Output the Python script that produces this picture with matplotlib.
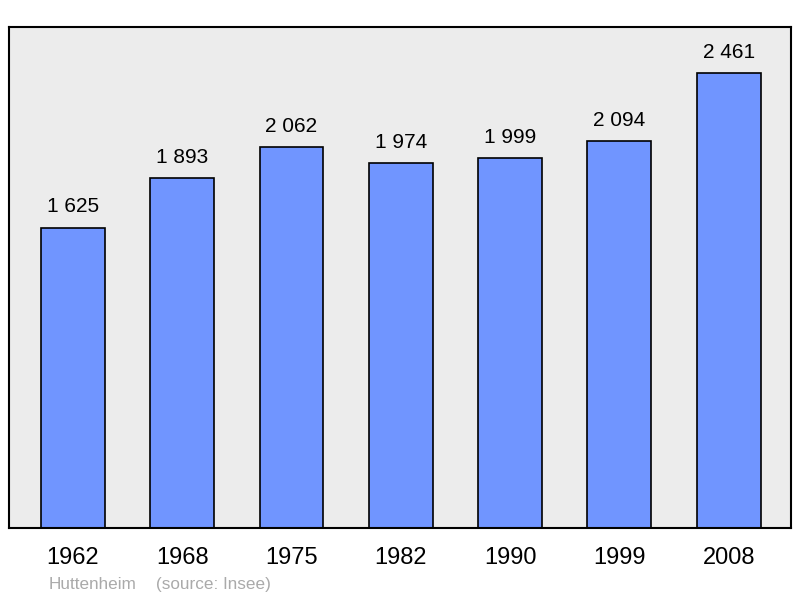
import matplotlib.pyplot as plt

plt.rcParams['font.family'] = ['Liberation Sans', 'DejaVu Sans']

years = ['1962', '1968', '1975', '1982', '1990', '1999', '2008']
population = [1625, 1893, 2062, 1974, 1999, 2094, 2461]
value_labels = ['1 625', '1 893', '2 062', '1 974', '1 999', '2 094', '2 461']

fig = plt.figure(figsize=(8, 5.98), dpi=100)
ax = fig.add_axes([9 / 800, 70 / 598, 782 / 800, 501 / 598])
ax.set_facecolor('#ececec')

x = list(range(len(years)))
ax.bar(x, population, width=0.585, color='#7095ff', edgecolor='black', linewidth=1.2, zorder=2)

for xi, v, lab in zip(x, population, value_labels):
    ax.annotate(lab, (xi, v), xytext=(0, 8), textcoords='offset points',
                ha='center', va='bottom', fontsize=15, color='black')

ax.set_xlim(-0.585, 6.57)
ax.set_ylim(0, 2710)
ax.set_yticks([])
ax.set_xticks(x)
ax.set_xticklabels(years, fontsize=17)
ax.tick_params(axis='x', length=0, pad=14)
for s in ax.spines.values():
    s.set_linewidth(1.5)

# source line, both parts on the same baseline
fig.text(49 / 800, 1 - 589 / 598, 'Huttenheim', color='#aaaaaa', fontsize=12.3, va='baseline')
fig.text(156 / 800, 1 - 589 / 598, '(source: Insee)', color='#aaaaaa', fontsize=12.3, va='baseline')

fig.savefig('out.png', dpi=100)
